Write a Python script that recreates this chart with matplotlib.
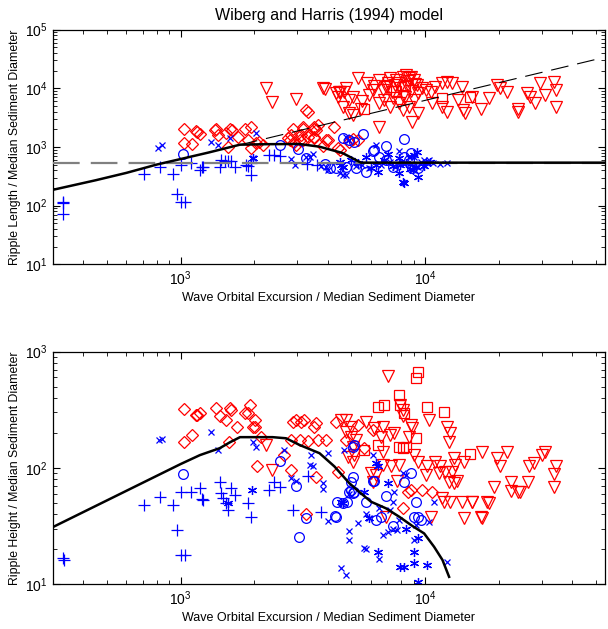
import matplotlib
matplotlib.use("Agg")
import matplotlib.pyplot as plt
from matplotlib.ticker import LogLocator, NullFormatter

plt.rcParams['font.family'] = ['Liberation Sans', 'DejaVu Sans']
plt.rcParams['mathtext.fontset'] = 'custom'
plt.rcParams['mathtext.rm'] = 'Liberation Sans'
plt.rcParams['mathtext.it'] = 'Liberation Sans:italic'

# ---- ripple length data (top panel) ----
len_plus_x = [331, 330, 331, 706, 821, 930, 966, 1005, 1005, 1045, 1100, 1200, 1220, 1240, 1470, 1515,
              1565, 1615, 1447, 1665, 1886, 1950, 1950, 1860, 2310, 2420, 2540, 3300, 3630]
len_plus_y = [116, 110, 72, 341, 460, 341, 156, 492, 114, 114, 526, 403, 455, 455, 598, 580,
              570, 570, 460, 460, 470, 332, 526, 500, 728, 728, 690, 520, 500]

len_x_x = [810, 837, 1330, 1425, 1590, 2040, 1980, 2830, 2925, 3370, 3470, 3265, 3760, 3930, 4000, 4470,
           4600, 4750, 4750, 4900, 6300, 7830, 8620, 9020, 9890, 10400, 12300, 9400, 5500, 6800, 7500, 8200,
           5200, 5900, 6600, 7200, 8800, 9600, 10800, 11500]
len_x_y = [946, 1080, 1228, 1080, 1390, 1700, 640, 620, 500, 680, 760, 680, 470, 460, 410, 360,
           332, 332, 1450, 1320, 1080, 840, 680, 680, 600, 600, 530, 460, 500, 560, 450, 520,
           470, 430, 500, 560, 500, 560, 540, 520]

len_o_x = [1020, 2540, 3020, 3260, 4600, 4900, 5130, 5590, 8200, 6920, 4320, 4750, 5210, 5730, 6500,
           6920, 7360, 8200, 8870, 6200, 6100, 8730, 9330, 8600, 3900, 4100]
len_o_y = [750, 1080, 910, 640, 1390, 1320, 1230, 1660, 1340, 1020, 440, 460, 440, 380, 680,
           600, 460, 680, 440, 900, 840, 780, 440, 600, 520, 440]

len_star_x = [1980, 4470, 4600, 5300, 5730, 6300, 7030, 7930, 8330, 9000, 9300, 9150, 10050, 6390,
              7830, 8200, 9330, 8100, 4530, 6800, 7800, 8700, 5000, 6000, 7400, 8900, 9900, 10500]
len_star_y = [640, 560, 460, 530, 680, 500, 770, 500, 530, 730, 830, 460, 530, 380,
              360, 240, 312, 256, 500, 600, 640, 420, 600, 440, 470, 400, 470, 560]

len_dia_x = [1030, 1155, 1200, 1030, 1110, 1170, 1390, 1420, 1590, 1620, 1560, 1720, 1830, 1950, 1890,
             1950, 2040, 2100, 2170, 2790, 2880, 3070, 2970, 3110, 3160, 3310, 3530, 3650, 3530, 3265,
             3160, 3530, 3530, 3310, 3160, 4000, 3810, 4470, 4900, 5050, 5300, 2750, 2830, 2920, 3580,
             3930, 4260, 4390, 1380, 1540]
len_dia_y = [1980, 1890, 1640, 1160, 1110, 1800, 2040, 1600, 2040, 1930, 1010, 1500, 2040, 2220, 1320,
             950, 1160, 1230, 1080, 1320, 2040, 1320, 1080, 1600, 2040, 3980, 2040, 2320, 1390, 4230,
             2220, 2220, 1500, 1500, 1320, 1320, 1020, 900, 1230, 1340, 1320, 1390, 1600, 1230, 1930,
             1320, 2220, 950, 1930, 1730]

len_tri_x = [2240, 2370, 2970, 3880, 4320, 4460, 4680, 4750, 3810, 4470, 5300, 4390, 4900, 5050, 4600,
             4900, 5050, 5460, 5900, 6100, 6700, 7030, 6500, 7160, 7610, 8090, 8330, 8600, 9030, 6800,
             7360, 7830, 6500, 7160, 8090, 8600, 8880, 9400, 9400, 10050, 10540, 11020, 11750, 12310,
             12910, 12300, 10700, 11750, 14100, 13700, 15600, 16900, 18200, 20300, 21600, 19700, 24100,
             24100, 26100, 26900, 28200, 29600, 33600, 31000, 34200, 34200, 14300, 14500, 6500, 7500,
             7900, 8400, 8800, 9100, 7300, 8100, 6900, 5800, 9700,
             7000, 7700, 8500, 8800, 9300, 6200, 8300, 9000, 5500]
len_tri_y = [9960, 5890, 6500, 9580, 8180, 8750, 8750, 9960, 9960, 8750, 14760, 7180, 6300, 7180, 4840,
             3730, 3500, 4500, 7660, 9300, 9300, 12100, 13800, 14760, 13800, 15800, 16800, 14760, 13800,
             6300, 6700, 5530, 5530, 4840, 4230, 4840, 2690, 3730, 8180, 9300, 8750, 10600, 12100, 12900,
             12100, 3980, 5530, 4840, 10600, 6300, 7180, 4500, 6700, 9960, 8750, 11300, 4500,
             3980, 8180, 7180, 5530, 12100, 12900, 7660, 9300, 4840, 4230, 3730, 2220, 11500,
             10000, 11000, 9000, 12000, 8500, 7500, 10500, 12500, 10000,
             11000, 12500, 13500, 15500, 11500, 11000, 7000, 6200, 6000]

len_sq_x = [5630, 11750, 15300, 7600, 8300]
len_sq_y = [4500, 6700, 7180, 9000, 11000]

# model curves, length
lam_x = [300, 450, 600, 800, 1000, 1300, 1750, 2200, 3060, 3700, 4590, 5470, 55000]
lam_y = [185, 270, 360, 500, 620, 800, 1090, 1110, 1120, 1007, 787, 538, 538]
orb_x = [1750, 50000]
orb_y = [1085, 31000]
ano_x = [300, 55000]
ano_y = [535, 535]

# ---- ripple height data (bottom panel) ----
ht_plus_x = [330, 335, 706, 821, 930, 966, 1005, 1045, 1005, 1100, 1200, 1220, 1240, 1447, 1470, 1490,
             1540, 1565, 1615, 1665, 1886, 1950, 2310, 2420, 2540, 2880, 3310, 3760]
ht_plus_y = [16.8, 16.2, 48, 56, 48, 29.3, 17.9, 17.9, 62.5, 62.5, 66.8, 54, 53, 76, 60.5, 54.9,
             49.7, 43.5, 66.8, 58.4, 49.7, 38.1, 64.7, 76, 69, 43.5, 86, 42]

ht_x_x = [815, 840, 1330, 1425, 1980, 2040, 2660, 2830, 2970, 3370, 3470, 3420, 3810, 3810, 4000, 4000,
          4680, 4870, 4870, 4530, 4750, 6100, 8090, 8330, 5300, 5730, 5920, 5630, 6500, 6700, 7030,
          7360, 7700, 6500, 7160, 7360, 7480, 9150, 10400, 10900, 7830, 9000, 12300, 5730, 4900]
ht_x_y = [174, 176, 205, 143, 168, 152, 143, 82, 78, 106, 104, 129, 74, 66, 134, 35,
          143, 28.6, 24, 13.8, 12.0, 129, 90, 87, 33.5, 40.5, 37, 20.5, 16.5, 26.3, 28,
          30, 29.5, 45, 43.5, 51.5, 62.5, 32.4, 34.6, 51.5, 36, 24, 15.6, 20, 60]

ht_o_x = [1020, 2540, 2970, 3260, 3040, 4300, 4370, 4800, 4900, 5050, 5130, 5050, 4960, 4960, 5130,
          5050, 4600, 6100, 6920, 6600, 7360, 8200, 8730, 9150, 9000, 9330, 9600, 5730, 6200, 6300, 4320]
ht_o_y = [88.7, 115, 70.5, 37.4, 25.6, 38.5, 51.5, 51.5, 62.5, 152, 158, 84, 76, 65, 62.5,
          60.5, 49.7, 78, 57, 38, 31.5, 75.5, 90, 51.5, 38, 38, 36, 51.5, 78, 36, 38]

ht_star_x = [1960, 1565, 4530, 6300, 7030, 5630, 5920, 6390, 9000, 7930, 8200, 9000, 10200, 9400,
             9330, 8330, 4600, 6390]
ht_star_y = [64.7, 49.7, 51.5, 110, 74, 62.5, 37, 19.1, 19.1, 14.1, 14.1, 15.2, 14.8, 24.9,
             10.4, 29.8, 50.5, 103]

ht_dia_x = [1030, 1155, 1200, 1035, 1110, 1390, 1445, 1530, 1590, 1615, 1580, 1700, 1830, 1890, 1930,
            1980, 2010, 2010, 2050, 2140, 2830, 2880, 2970, 2830, 3070, 3110, 3210, 3265, 3530, 3580,
            3650, 3580, 2660, 3310, 3930, 4320, 4390, 4750, 5300, 5630, 6100, 8730, 8500, 10700, 9700,
            8090, 1170]
ht_dia_y = [320, 286, 299, 168, 192, 326, 277, 258, 326, 315, 168, 224, 295, 299, 348,
            227, 224, 258, 103, 186, 96, 250, 258, 174, 174, 250, 258, 40.5, 227, 242,
            174, 84, 129, 171, 174, 250, 93, 174, 234, 148, 212, 65, 62.5, 62.5, 65,
            45, 286]

ht_tri_x = [2240, 2370, 7080, 4530, 4750, 4960, 4750, 4960, 5210, 5050, 5130, 4820, 5050, 5730, 6200,
            6700, 6600, 7160, 6700, 7480, 7930, 8090, 8090, 8730, 8880, 8600, 10400, 12300, 12700,
            12500, 6700, 7250, 7830, 6010, 6300, 6100, 7700, 9000, 9400, 10200, 10050, 11020, 11400,
            11550, 12100, 13100, 13300, 12900, 14400, 12500, 13100, 13500, 11900, 12700, 11750, 14100,
            15600, 14400, 17100, 17900, 17100, 10600, 6920, 19700, 21600, 20300, 26500, 27800, 30000,
            31000, 34400, 33600, 33600, 19100, 22400, 26300, 22400, 24100, 24500, 15600, 18200, 17000]
ht_tri_y = [158, 96, 622, 259, 259, 226, 205, 186, 174, 152, 129, 125, 113, 250, 220,
            226, 186, 193, 138, 199, 348, 315, 277, 234, 220, 186, 259, 226, 199,
            168, 106, 103, 106, 90, 87, 76, 78, 129, 113, 103, 87, 113, 90,
            103, 93, 121, 106, 93, 113, 76, 74, 78, 51.5, 51.5, 55, 51.5,
            51.5, 37, 37, 51.5, 138, 38, 38, 121, 136, 103, 103, 110, 129,
            137, 103, 88, 69, 69, 76, 76, 63.5, 62.5, 62.5, 51.5, 50.5, 38]

ht_sq_x = [9400, 9150, 7830, 6390, 6800, 7930, 10200, 12000, 8200, 6390, 5630, 7830, 8090, 8330, 9150, 15300]
ht_sq_y = [665, 590, 424, 337, 348, 348, 337, 305, 295, 158, 143, 152, 148, 152, 180, 131]

eta_x = [300, 1000, 1200, 1447, 1590, 1750, 2380, 2700, 3060, 3700, 4260, 4900, 5470, 6010, 6920,
         7840, 8880, 9910, 10890, 11780, 12540]
eta_y = [31, 108, 129, 148, 166, 184, 184, 180, 158, 134, 103, 74, 60.5, 51.3, 45,
         38.1, 31.7, 27.4, 21.0, 16.2, 11.6]

xlims = (300, 10 ** 4.735)
blue = '#0000ff'
red = '#ff0000'
asterisk = (6, 2, 0)


def draw_points(ax, sets):
    for xs, ys, mk, col, ms in sets:
        ax.plot(xs, ys, linestyle='none', marker=mk, markersize=ms, markerfacecolor='none',
                markeredgecolor=col, markeredgewidth=0.9, color=col)


def style_axes(ax, ylims, ylabel):
    ax.set_xscale('log')
    ax.set_yscale('log')
    ax.set_xlim(*xlims)
    ax.set_ylim(*ylims)
    ax.xaxis.set_minor_locator(LogLocator(base=10, subs=range(2, 10), numticks=20))
    ax.yaxis.set_minor_locator(LogLocator(base=10, subs=range(2, 10), numticks=20))
    ax.xaxis.set_minor_formatter(NullFormatter())
    ax.yaxis.set_minor_formatter(NullFormatter())
    ax.tick_params(which='both', direction='in', top=True, right=True, labelsize=10)
    ax.tick_params(which='major', length=5, width=0.8)
    ax.tick_params(which='minor', length=3, width=0.6)
    for s in ax.spines.values():
        s.set_linewidth(0.9)
    ax.set_xlabel('Wave Orbital Excursion / Median Sediment Diameter', fontsize=9, labelpad=3)
    ax.set_ylabel(ylabel, fontsize=8.8, labelpad=3)


fig = plt.figure(figsize=(6.08, 6.29), dpi=100)
ax1 = fig.add_axes([0.0867, 0.580, 0.908, 0.373])
ax2 = fig.add_axes([0.0867, 0.071, 0.908, 0.370])

draw_points(ax1, [
    (len_tri_x, len_tri_y, 'v', red, 8.5),
    (len_sq_x, len_sq_y, 's', red, 7),
    (len_dia_x, len_dia_y, 'D', red, 6.5),
    (len_plus_x, len_plus_y, '+', blue, 8),
    (len_x_x, len_x_y, 'x', blue, 4.5),
    (len_o_x, len_o_y, 'o', blue, 7),
    (len_star_x, len_star_y, asterisk, blue, 6.5),
])
ax1.plot(ano_x, ano_y, color='#808080', linewidth=1.6, dashes=(12, 5), zorder=3)
ax1.plot(orb_x, orb_y, color='black', linewidth=0.8, dashes=(16, 8), zorder=3)
ax1.plot(lam_x, lam_y, color='black', linewidth=1.8, zorder=4)
style_axes(ax1, (10, 1e5), 'Ripple Length / Median Sediment Diameter')
ax1.set_title('Wiberg and Harris (1994) model', fontsize=11.5, pad=7)

draw_points(ax2, [
    (ht_tri_x, ht_tri_y, 'v', red, 8.5),
    (ht_sq_x, ht_sq_y, 's', red, 7),
    (ht_dia_x, ht_dia_y, 'D', red, 6.5),
    (ht_plus_x, ht_plus_y, '+', blue, 8),
    (ht_x_x, ht_x_y, 'x', blue, 4.5),
    (ht_o_x, ht_o_y, 'o', blue, 7),
    (ht_star_x, ht_star_y, asterisk, blue, 6.5),
])
ax2.plot(eta_x, eta_y, color='black', linewidth=1.8, zorder=4)
style_axes(ax2, (10, 1e3), 'Ripple Height / Median Sediment Diameter')

fig.savefig('out.png', dpi=100)
